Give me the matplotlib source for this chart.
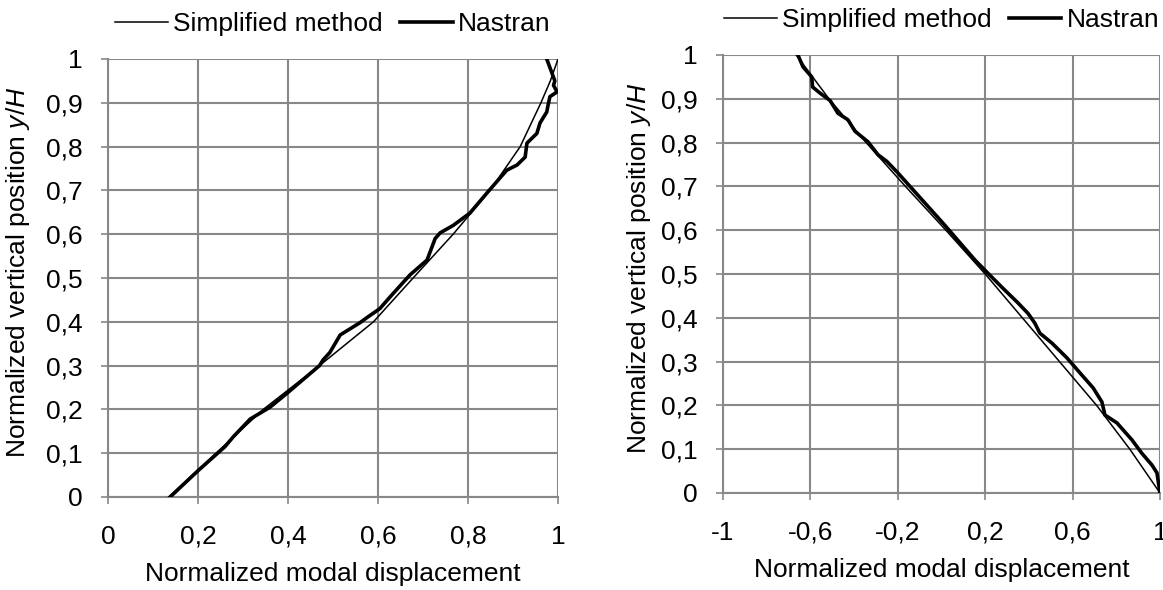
import matplotlib
matplotlib.use('Agg')
import matplotlib.pyplot as plt

plt.rcParams['font.family'] = ['Liberation Sans', 'DejaVu Sans']
plt.rcParams['mathtext.fontset'] = 'custom'
plt.rcParams['mathtext.rm'] = 'Liberation Sans'
plt.rcParams['mathtext.it'] = 'Liberation Sans:italic'

# ---- left panel (first mode) ----
left_simp_y = [0.0, 0.1, 0.2, 0.3, 0.4, 0.5, 0.6, 0.7, 0.8, 0.9, 0.95, 1.0]
left_simp_x = [0.135, 0.24, 0.345, 0.47, 0.59, 0.678, 0.767, 0.849, 0.916, 0.962, 0.983, 1.0]

left_nas_x = [0.138, 0.2, 0.26, 0.278, 0.316, 0.36, 0.398, 0.47, 0.478, 0.493, 0.516,
              0.56, 0.576, 0.604, 0.627, 0.671, 0.709, 0.727, 0.738, 0.767, 0.804,
              0.842, 0.886, 0.909, 0.927, 0.931, 0.953, 0.96, 0.975, 0.978, 0.982,
              0.998, 0.99, 0.993, 0.975]
left_nas_y = [0.0, 0.06, 0.115, 0.137, 0.178, 0.205, 0.237, 0.30, 0.313, 0.33, 0.37,
              0.398, 0.41, 0.43, 0.457, 0.507, 0.541, 0.59, 0.603, 0.62, 0.648,
              0.694, 0.746, 0.758, 0.776, 0.808, 0.83, 0.854, 0.879, 0.895, 0.914,
              0.925, 0.94, 0.95, 1.0]

# ---- right panel (second mode) ----
right_simp_y = [1.0, 0.9, 0.8, 0.7, 0.6, 0.5, 0.4, 0.3, 0.2, 0.1, 0.0]
right_simp_x = [-0.665, -0.515, -0.345, -0.165, 0.02, 0.2, 0.37, 0.54, 0.71, 0.862, 1.0]

right_nas_x = [-0.657, -0.634, -0.594, -0.59, -0.556, -0.51, -0.474, -0.428, -0.396,
               -0.337, -0.29, -0.25, -0.2, 0.007, 0.153, 0.222, 0.28, 0.35, 0.396,
               0.427, 0.45, 0.506, 0.575, 0.634, 0.694, 0.734, 0.748, 0.803, 0.872,
               0.918, 0.963, 0.986, 1.0]
right_nas_y = [1.0, 0.973, 0.95, 0.927, 0.913, 0.896, 0.867, 0.852, 0.826,
               0.802, 0.772, 0.757, 0.731, 0.616, 0.532, 0.497, 0.468, 0.434, 0.41,
               0.388, 0.365, 0.342, 0.308, 0.274, 0.24, 0.208, 0.178, 0.16, 0.121,
               0.09, 0.064, 0.046, 0.0]

y_ticks = [0, 0.1, 0.2, 0.3, 0.4, 0.5, 0.6, 0.7, 0.8, 0.9, 1.0]
y_ticklabels = ['0', '0,1', '0,2', '0,3', '0,4', '0,5', '0,6', '0,7', '0,8', '0,9', '1']
left_xticks = [0, 0.2, 0.4, 0.6, 0.8, 1.0]
left_xticklabels = ['0', '0,2', '0,4', '0,6', '0,8', '1']
right_xticks = [-1, -0.6, -0.2, 0.2, 0.6, 1.0]
right_xticklabels = ['-1', '-0,6', '-0,2', '0,2', '0,6', '1']

FS = 19
GRID = '#888888'

fig = plt.figure(figsize=(11.63, 5.90), dpi=100)
ax1 = fig.add_axes([108/1163, 93/590, 450/1163, 438/590])
ax2 = fig.add_axes([723/1163, 97/590, 437/1163, 438/590])

panels = [
  (ax1, left_simp_x, left_simp_y, left_nas_x, left_nas_y, (0, 1), left_xticks, left_xticklabels),
  (ax2, right_simp_x, right_simp_y, right_nas_x, right_nas_y, (-1, 1), right_xticks, right_xticklabels),
]

for ax, sx, sy, nx, ny, xlim, xt, xtl in panels:
  ax.plot(sx, sy, color='black', lw=1.1, label='Simplified method', zorder=3)
  ax.plot(nx, ny, color='black', lw=2.6, label='Nastran', zorder=3)
  ax.set_xlim(*xlim)
  ax.set_ylim(0, 1)
  ax.set_xticks(xt)
  ax.set_xticklabels(xtl, fontsize=FS)
  ax.set_yticks(y_ticks)
  ax.set_yticklabels(y_ticklabels, fontsize=FS)
  ax.grid(True, color=GRID, lw=1.5)
  ax.set_axisbelow(True)
  for s in ['top', 'right']:
    ax.spines[s].set_visible(False)
  for s in ['left', 'bottom']:
    ax.spines[s].set_color(GRID)
    ax.spines[s].set_linewidth(1.5)
  ax.tick_params(axis='both', color=GRID, width=1.2, length=5, labelcolor='black')
  ax.tick_params(axis='x', pad=15)
  ax.tick_params(axis='y', pad=13)
  ax.set_xlabel('Normalized modal displacement', fontsize=FS)
  ax.xaxis.set_label_coords(0.5, -0.148)
  ax.set_ylabel('Normalized vertical position $y/H$', fontsize=FS)
  ax.legend(loc='lower center', bbox_to_anchor=(0.5, 1.052), ncol=2, frameon=False,
            fontsize=FS, handlelength=2.0, handletextpad=0.2, columnspacing=0.65,
            borderaxespad=0, borderpad=0)

ax1.yaxis.set_label_coords(-0.169, 0.514)
ax2.yaxis.set_label_coords(-0.16, 0.514)

plt.savefig('out.png', dpi=100)
plt.close()
